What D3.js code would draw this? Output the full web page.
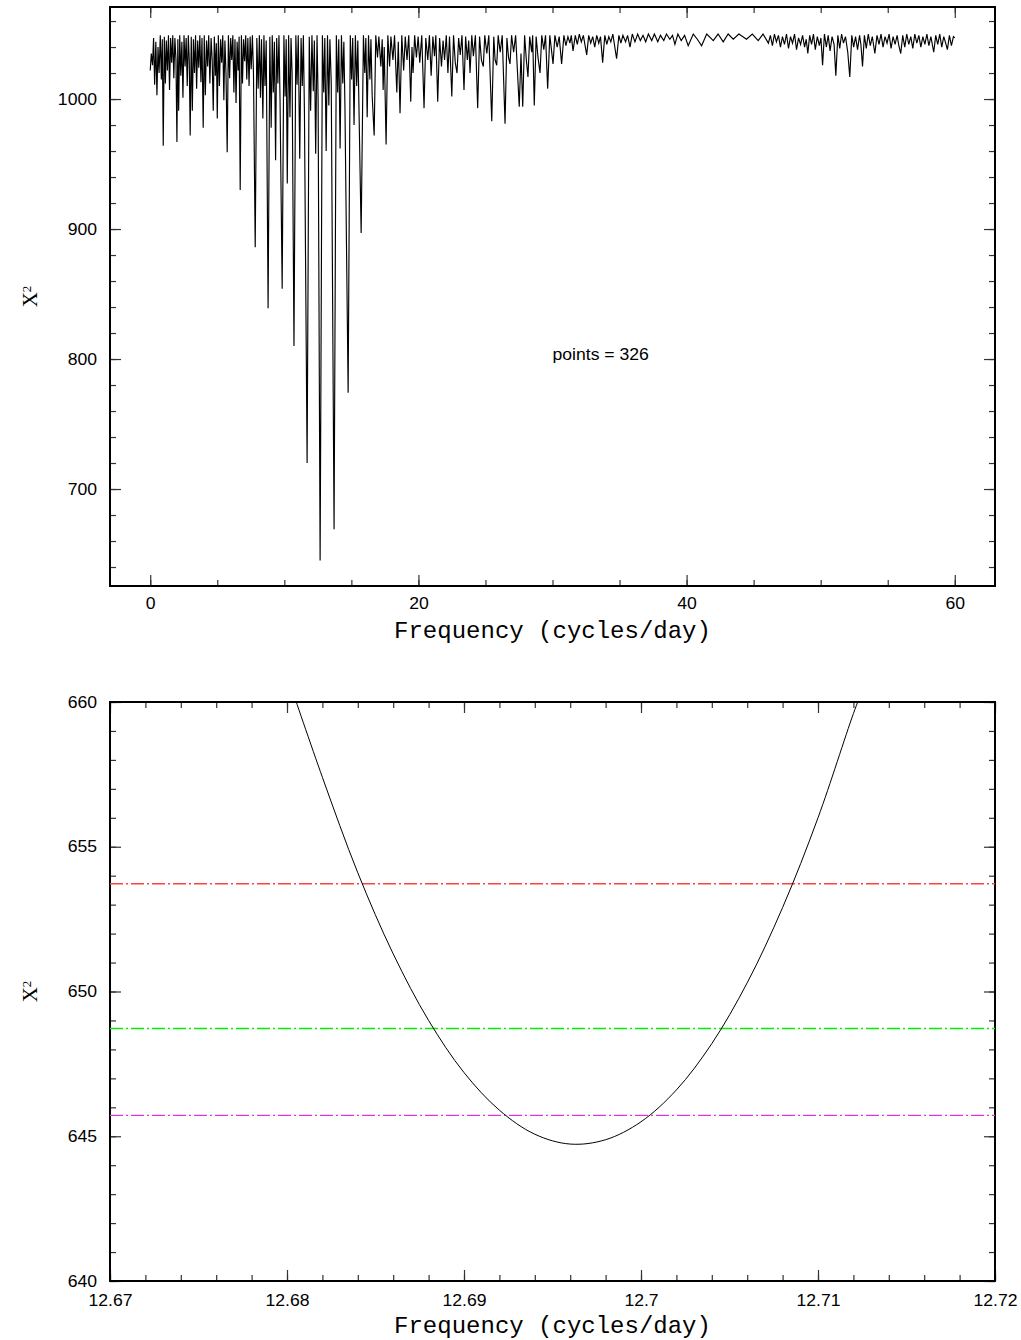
<!DOCTYPE html>
<html>
<head>
<meta charset="utf-8">
<script src="https://cdn.jsdelivr.net/npm/d3@7"></script>
<style>
  body { margin: 0; background: #fff; }
  .tick line { stroke: #333; stroke-width: 1.2; }
  .tick text { font-family: "Liberation Sans", Arial, sans-serif; font-size: 16px; fill: #000; }
</style>
</head>
<body>
<div id="chart"></div>
<script>
// chi-square periodogram: [frequency, chi2]
var periodogram = [
  [0.00,1022],[0.08,1035],[0.17,1026],[0.25,1047],[0.33,1011],[0.42,1044],[0.50,1003],[0.58,1040],[0.66,1020],[0.75,1049],
  [0.83,1015],[0.90,1046],[0.97,964],[1.05,1048],[1.13,1012],[1.20,1045],[1.28,1022],[1.36,1049],[1.44,1007],[1.52,1047],
  [1.60,1028],[1.68,1049],[1.76,1016],[1.84,1047],[1.92,1030],[1.99,967],[2.06,1046],[2.12,991],[2.20,1049],[2.28,1018],
  [2.36,1044],[2.44,1001],[2.52,1049],[2.60,1025],[2.68,1047],[2.76,1010],[2.84,1049],[2.91,1030],[2.98,972],[3.06,1048],
  [3.14,991],[3.22,1046],[3.30,1020],[3.38,1049],[3.46,1008],[3.54,1045],[3.62,1024],[3.70,1049],[3.78,1013],[3.86,1047],
  [3.95,978],[4.03,1049],[4.11,1003],[4.20,1045],[4.28,1025],[4.36,1049],[4.45,1012],[4.54,1047],[4.62,1030],[4.70,991],
  [4.78,1048],[4.86,1018],[4.93,1043],[5.00,985],[5.08,1049],[5.16,1010],[5.25,1046],[5.33,1028],[5.41,1049],[5.49,999],
  [5.57,1045],[5.65,1020],[5.74,959],[5.83,1049],[5.92,1016],[6.00,1047],[6.08,1030],[6.16,1049],[6.24,1005],[6.32,1046],
  [6.40,997],[6.48,1044],[6.56,1022],[6.63,1048],[6.71,930],[6.80,1049],[6.88,1012],[6.96,1046],[7.04,1029],[7.12,1049],
  [7.20,1015],[7.28,1047],[7.37,1010],[7.45,1048],[7.53,1023],[7.62,1049],[7.70,1020],[7.83,886],[7.95,1047],[8.05,1008],
  [8.14,1049],[8.22,1001],[8.30,1046],[8.40,985],[8.48,1049],[8.56,1010],[8.65,1045],[8.79,839],[8.92,1048],[9.02,978],
  [9.10,1049],[9.18,1005],[9.26,1044],[9.35,953],[9.43,1047],[9.52,1012],[9.60,1049],[9.68,1000],[9.84,854],[9.97,1049],
  [10.06,1002],[10.14,1046],[10.22,935],[10.32,1049],[10.42,986],[10.50,1047],[10.58,1020],[10.72,810],[10.86,1049],[10.95,1011],
  [11.04,1049],[11.15,954],[11.25,1047],[11.34,1010],[11.42,1049],[11.50,990],[11.70,720],[11.86,1048],[11.96,991],[12.06,1049],
  [12.16,1006],[12.24,1045],[12.34,958],[12.44,1049],[12.52,1000],[12.67,645],[12.84,1049],[12.94,1005],[13.02,1047],[13.12,960],
  [13.22,1049],[13.32,995],[13.40,1046],[13.50,1012],[13.71,669],[13.88,1049],[13.98,1005],[14.06,1046],[14.16,962],[14.26,1049],
  [14.36,1012],[14.44,1044],[14.52,995],[14.76,774],[14.92,1049],[15.02,1015],[15.10,1047],[15.20,980],[15.30,1049],[15.40,1010],
  [15.48,1045],[15.73,897],[15.90,1049],[16.00,1020],[16.08,1047],[16.18,986],[16.28,1049],[16.38,1015],[16.46,1046],[16.55,1003],
  [16.70,972],[16.82,1049],[16.95,1032],[17.05,1048],[17.20,1025],[17.30,1046],[17.37,1007],[17.45,1040],[17.59,965],[17.72,1049],
  [17.85,1025],[17.95,1048],[18.10,1030],[18.22,1049],[18.39,1005],[18.50,1044],[18.63,989],[18.76,1049],[18.90,1022],[19.02,1048],
  [19.15,1030],[19.28,1049],[19.43,998],[19.52,1040],[19.60,1020],[19.72,1049],[19.85,1032],[19.98,1048],[20.10,1028],[20.25,1049],
  [20.42,993],[20.55,1047],[20.70,1030],[20.82,1049],[20.95,1018],[21.08,1048],[21.20,1033],[21.30,1049],[21.44,998],[21.58,1047],
  [21.72,1025],[21.84,1045],[21.95,1030],[22.08,1049],[22.20,1020],[22.32,1048],[22.49,1002],[22.62,1049],[22.75,1028],[22.88,1020],
  [23.00,1047],[23.12,1034],[23.25,1049],[23.40,1007],[23.52,1048],[23.65,1030],[23.75,1045],[23.85,1020],[23.98,1049],[24.10,1033],
  [24.25,1049],[24.42,993],[24.56,1048],[24.70,1030],[24.84,1025],[24.95,1049],[25.10,1035],[25.25,1049],[25.47,983],[25.62,1048],
  [25.72,1030],[25.84,1026],[25.95,1049],[26.10,1036],[26.25,1049],[26.46,981],[26.60,1047],[26.72,1032],[26.83,1027],[26.95,1049],
  [27.10,1036],[27.25,1049],[27.52,994],[27.65,1035],[27.78,994],[27.92,1049],[28.05,1030],[28.17,1017],[28.30,1048],[28.45,1036],
  [28.52,1049],[28.64,995],[28.78,1048],[28.92,1032],[29.07,1020],[29.20,1049],[29.35,1038],[29.48,1049],[29.64,1008],[29.80,1049],
  [29.92,1038],[30.04,1027],[30.18,1049],[30.35,1040],[30.50,1048],[30.68,1027],[30.85,1049],[31.00,1041],[31.15,1048],[31.30,1043],
  [31.40,1049],[31.53,1037],[31.70,1049],[31.85,1042],[32.00,1050],[32.15,1044],[32.30,1049],[32.55,1034],[32.70,1049],[32.85,1043],
  [33.00,1048],[33.15,1040],[33.30,1049],[33.45,1043],[33.58,1048],[33.74,1028],[33.90,1049],[34.05,1042],[34.20,1048],[34.35,1044],
  [34.50,1050],[34.78,1031],[34.95,1049],[35.10,1043],[35.25,1049],[35.45,1044],[35.60,1049],[35.78,1040],[35.95,1050],[36.15,1044],
  [36.35,1050],[36.55,1045],[36.75,1049],[36.95,1044],[37.15,1050],[37.40,1045],[37.60,1050],[37.85,1044],[38.05,1049],[38.30,1045],
  [38.50,1050],[38.75,1046],[38.95,1049],[39.13,1042],[39.35,1050],[39.60,1045],[39.85,1049],[40.12,1041],[40.50,1050],[40.80,1046],
  [41.12,1041],[41.50,1050],[41.99,1045],[42.35,1050],[42.73,1044],[43.10,1050],[43.48,1046],[43.90,1050],[44.47,1046],[44.90,1050],
  [45.34,1045],[45.70,1050],[46.10,1043],[46.25,1049],[46.40,1041],[46.55,1050],[46.70,1044],[46.85,1049],[47.00,1040],[47.15,1048],
  [47.30,1042],[47.45,1050],[47.60,1039],[47.75,1048],[47.90,1043],[48.05,1050],[48.20,1038],[48.35,1047],[48.50,1042],[48.65,1049],
  [48.80,1040],[48.92,1046],[49.04,1035],[49.18,1049],[49.32,1042],[49.46,1050],[49.60,1038],[49.75,1048],[49.90,1041],[50.02,1047],
  [50.14,1026],[50.28,1050],[50.42,1040],[50.56,1049],[50.70,1037],[50.85,1048],[51.00,1042],[51.13,1018],[51.28,1049],[51.42,1039],
  [51.56,1050],[51.70,1043],[51.85,1048],[52.02,1036],[52.17,1017],[52.32,1049],[52.46,1040],[52.60,1048],[52.75,1038],[52.90,1049],
  [53.00,1042],[53.12,1025],[53.26,1049],[53.40,1039],[53.55,1050],[53.70,1041],[53.85,1048],[54.04,1035],[54.20,1049],[54.35,1042],
  [54.50,1050],[54.65,1040],[54.80,1048],[54.95,1043],[55.10,1050],[55.25,1039],[55.40,1048],[55.55,1042],[55.70,1049],[55.83,1041],
  [55.97,1035],[56.12,1049],[56.27,1040],[56.42,1050],[56.57,1042],[56.72,1048],[56.87,1039],[57.02,1050],[57.17,1043],[57.32,1049],
  [57.47,1040],[57.62,1048],[57.77,1042],[57.92,1050],[58.07,1041],[58.22,1048],[58.43,1036],[58.58,1049],[58.73,1042],[58.88,1050],
  [59.03,1040],[59.18,1048],[59.32,1043],[59.45,1038],[59.60,1049],[59.75,1041],[59.90,1048],[60.00,1047]
];

// zoom on the minimum: [frequency, chi2]
var fitCurve = [
  [12.6803,660.4],[12.682,657.4],[12.684,654.1],[12.686,651.3],[12.688,649.0],[12.690,647.2],[12.692,645.9],
  [12.694,645.07],[12.696,644.73],[12.698,644.88],[12.700,645.5],[12.702,646.6],[12.704,648.2],[12.706,650.3],
  [12.708,652.9],[12.710,656.0],[12.712,659.6],[12.7125,660.4]
];

// horizontal confidence levels (min + 9, 4, 1)
var levelValues = [653.72, 648.72, 645.72];
var levelColors = ["#ff4040", "#00ee00", "#d838d8"];

var topXTicks = [0, 20, 40, 60];
var topYTicks = [700, 800, 900, 1000];
var botXTicks = [12.67, 12.68, 12.69, 12.70, 12.71, 12.72];
var botXLabels = ["12.67", "12.68", "12.69", "12.7", "12.71", "12.72"];
var botYTicks = [640, 645, 650, 655, 660];
var pointsText = "points = 326";
var xTitle = "Frequency (cycles/day)";

var svgWidth = 1021;
var svgHeight = 1340;
var left = 110, right = 995;

var svg = d3.select("#chart")
    .append("svg")
    .attr("width", svgWidth)
    .attr("height", svgHeight);

// scales
var xTop = d3.scaleLinear().domain([-3, 63]).range([left, right]);
var yTop = d3.scaleLinear().domain([625.4, 1070.8]).range([586, 7]);
var xBot = d3.scaleLinear().domain([12.67, 12.72]).range([left, right]);
var yBot = d3.scaleLinear().domain([640, 660]).range([1281, 702]);

function noDomain(g) { g.select(".domain").remove(); }

// ticks on all four sides, pointing inward
function drawTicks(x, y, xMaj, xMin, yMaj, yMin, xFmt, yFmt, xPad) {
    var yb = y.range()[0], yt = y.range()[1];
    var xl = x.range()[0], xr = x.range()[1];
    var big = 11, small = 6;

    svg.append("g").attr("transform", `translate(0,${yb})`)
        .call(d3.axisBottom(x).tickValues(xMin).tickSize(-small).tickFormat("")).call(noDomain);
    svg.append("g").attr("class", "x-lab").attr("transform", `translate(0,${yb})`)
        .call(d3.axisBottom(x).tickValues(xMaj).tickSize(-big).tickPadding(xPad).tickFormat(xFmt)).call(noDomain);
    svg.append("g").attr("transform", `translate(0,${yt})`)
        .call(d3.axisTop(x).tickValues(xMin).tickSize(-small).tickFormat("")).call(noDomain);
    svg.append("g").attr("transform", `translate(0,${yt})`)
        .call(d3.axisTop(x).tickValues(xMaj).tickSize(-big).tickFormat("")).call(noDomain);

    svg.append("g").attr("transform", `translate(${xl},0)`)
        .call(d3.axisLeft(y).tickValues(yMin).tickSize(-small).tickFormat("")).call(noDomain);
    svg.append("g").attr("class", "y-lab").attr("transform", `translate(${xl},0)`)
        .call(d3.axisLeft(y).tickValues(yMaj).tickSize(-big).tickPadding(13).tickFormat(yFmt)).call(noDomain);
    svg.append("g").attr("transform", `translate(${xr},0)`)
        .call(d3.axisRight(y).tickValues(yMin).tickSize(-small).tickFormat("")).call(noDomain);
    svg.append("g").attr("transform", `translate(${xr},0)`)
        .call(d3.axisRight(y).tickValues(yMaj).tickSize(-big).tickFormat("")).call(noDomain);

    // box
    svg.append("rect")
        .attr("x", xl).attr("y", yt)
        .attr("width", xr - xl).attr("height", yb - yt)
        .attr("fill", "none").attr("stroke", "#000").attr("stroke-width", 2);
}

function clipFor(id, x, y) {
    svg.append("clipPath").attr("id", id)
        .append("rect")
        .attr("x", x.range()[0]).attr("y", y.range()[1])
        .attr("width", x.range()[1] - x.range()[0])
        .attr("height", y.range()[0] - y.range()[1]);
}

function axisTitles(x, y, titleY) {
    svg.append("text")
        .attr("x", (x.range()[0] + x.range()[1]) / 2)
        .attr("y", titleY)
        .attr("text-anchor", "middle")
        .style("font-family", "'Liberation Mono', 'Courier New', monospace")
        .style("font-size", "24px")
        .text(xTitle);

    var cy = (y.range()[0] + y.range()[1]) / 2;
    var yl = svg.append("text")
        .attr("transform", `translate(37,${cy}) rotate(-90)`)
        .attr("text-anchor", "middle")
        .style("font-family", "'Liberation Serif', 'Times New Roman', serif")
        .style("font-size", "21px");
    yl.append("tspan").text("X");
    yl.append("tspan").attr("dy", "-0.45em").style("font-size", "13px").text("2");
}

// ---------- top panel ----------
clipFor("clipTop", xTop, yTop);
drawTicks(xTop, yTop, topXTicks, d3.range(0, 61, 5), topYTicks, d3.range(640, 1071, 20),
    d3.format("d"), d3.format("d"), 12);

svg.append("path")
    .datum(periodogram)
    .attr("clip-path", "url(#clipTop)")
    .attr("fill", "none")
    .attr("stroke", "#000")
    .attr("stroke-width", 1.15)
    .attr("d", d3.line().x(d => xTop(d[0])).y(d => yTop(d[1])));

svg.append("text")
    .attr("x", xTop(30.0))
    .attr("y", yTop(800) - 5)
    .attr("dy", "0.35em")
    .style("font-family", "'Liberation Sans', Arial, sans-serif")
    .style("font-size", "16px")
    .attr("class", "wide")
    .text(pointsText);

axisTitles(xTop, yTop, 638);

// ---------- bottom panel ----------
clipFor("clipBot", xBot, yBot);
drawTicks(xBot, yBot, botXTicks, d3.range(0, 26).map(i => 12.67 + i * 0.002), botYTicks, d3.range(640, 661, 1),
    (d, i) => botXLabels[i], d3.format("d"), 14);

svg.append("g")
    .selectAll("line")
    .data(levelValues)
    .enter()
    .append("line")
    .attr("x1", left).attr("x2", right)
    .attr("y1", d => yBot(d)).attr("y2", d => yBot(d))
    .attr("stroke", (d, i) => levelColors[i])
    .attr("stroke-width", 1.4)
    .attr("stroke-dasharray", "13,3,2,3");

svg.append("path")
    .datum(fitCurve)
    .attr("clip-path", "url(#clipBot)")
    .attr("fill", "none")
    .attr("stroke", "#000")
    .attr("stroke-width", 1)
    .attr("d", d3.line().curve(d3.curveCatmullRom).x(d => xBot(d[0])).y(d => yBot(d[1])));

axisTitles(xBot, yBot, 1333);

// the plotting font is a bit wider than Liberation Sans
svg.selectAll(".tick text, text.wide").each(function() {
    var len = this.getComputedTextLength();
    if (len > 0) {
        d3.select(this).attr("textLength", len * 1.1).attr("lengthAdjust", "spacingAndGlyphs");
    }
});
</script>
</body>
</html>
